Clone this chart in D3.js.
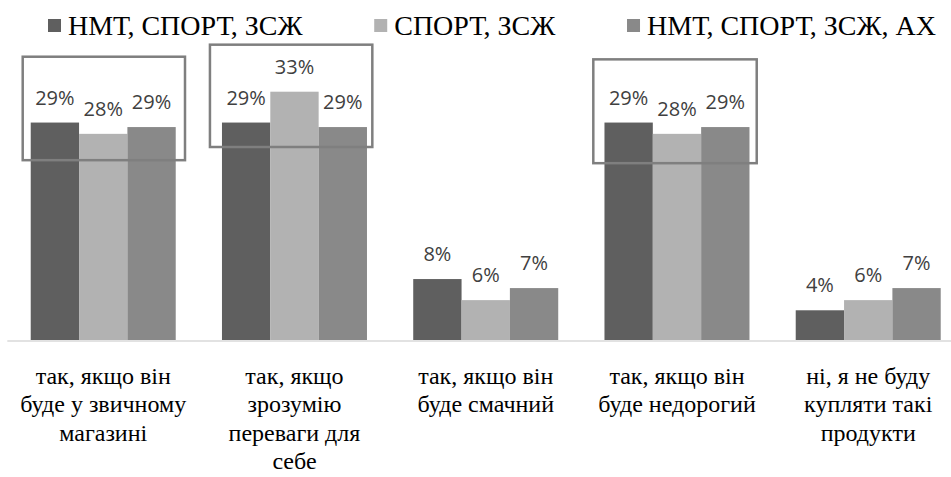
<!DOCTYPE html>
<html><head><meta charset="utf-8">
<script src="https://cdn.jsdelivr.net/npm/d3@7"></script>
<style>
  body { margin: 0; }
  #wrap { position: relative; width: 951px; height: 477px; overflow: hidden; }
  #chart { position: absolute; left: 0; top: 0; }
  .ser { position: absolute; font-family: "Liberation Serif", "Tinos", "Times New Roman", "DejaVu Serif", serif; color: #000; white-space: pre; }
</style></head>
<body>
<div id="wrap"><svg id="chart" width="951" height="477"></svg></div>
<script>
// ---- data ----
const categories = [
  "так, якщо він\nбуде у звичному\nмагазині",
  "так, якщо\nзрозумію\nпереваги для\nсебе",
  "так, якщо він\nбуде смачний",
  "так, якщо він\nбуде недорогий",
  "ні, я не буду\nкупляти такі\nпродукти"
];
const seriesNames = ["НМТ, СПОРТ, ЗСЖ", "СПОРТ, ЗСЖ", "НМТ, СПОРТ, ЗСЖ, АХ"];
const series1 = [28.9, 28.9, 8.1, 28.9, 3.95];
const series2 = [27.4, 33.0, 5.3, 27.4, 5.3];
const series3 = [28.3, 28.3, 6.9, 28.3, 6.9];
const labels1 = ["29%", "29%", "8%", "29%", "4%"];
const labels2 = ["28%", "33%", "6%", "28%", "6%"];
const labels3 = ["29%", "29%", "7%", "29%", "7%"];
// highlight frames: category index, top and bottom in value units
const frameCats = [0, 1, 3];
const frameTop = [37.65, 39.25, 37.3];
const frameBottom = [23.9, 25.65, 23.5];
const frameLeft = [0.079, 0.058, 0.0625];
const frameRight = [0.9276, 0.907, 0.917];

const colors = ["#5f5f5f", "#b2b2b2", "#898989"];
const allSeries = [series1, series2, series3];
const allLabels = [labels1, labels2, labels3];

const svg = d3.select("#chart");
const wrap = d3.select("#wrap");

const baseY = 340;
const pxPerUnit = 7.524;
const y = d3.scaleLinear().domain([0, 35]).range([baseY, baseY - 35 * pxPerUnit]);

const x0 = d3.scaleBand().domain(d3.range(categories.length))
  .range([7.6, 963.85]).paddingInner(0.2418).paddingOuter(0.1209);
const x1 = d3.scaleBand().domain(d3.range(seriesNames.length))
  .range([0, x0.bandwidth()]).padding(0);

const step = x0.step();
const bandStart = i => x0(i) - (step - x0.bandwidth()) / 2;

// bars
const groups = svg.append("g").selectAll("g")
  .data(categories.map((c, i) => i))
  .join("g")
  .attr("transform", i => `translate(${x0(i)},0)`);

groups.selectAll("rect")
  .data(i => allSeries.map((s, k) => ({ k, v: s[i] })))
  .join("rect")
  .attr("x", d => x1(d.k))
  .attr("y", d => y(d.v))
  .attr("width", x1.bandwidth())
  .attr("height", d => y(0) - y(d.v))
  .attr("fill", d => colors[d.k]);

// axis line
svg.append("line")
  .attr("x1", 7.3).attr("x2", 951)
  .attr("y1", baseY + 1).attr("y2", baseY + 1)
  .attr("stroke", "#d9d9d9").attr("stroke-width", 1.5);

// data labels
groups.selectAll("text")
  .data(i => allSeries.map((s, k) => ({ k, v: s[i], lab: allLabels[k][i] })))
  .join("text")
  .attr("x", d => x1(d.k) + x1.bandwidth() / 2)
  .attr("y", d => y(d.v) - 18)
  .attr("text-anchor", "middle")
  .attr("font-family", "Open Sans")
  .attr("font-size", 20)
  .attr("fill", "#404040")
  .text(d => d.lab);

// highlight frames
svg.append("g").selectAll("rect")
  .data(frameCats.map((c, j) => ({ c, j })))
  .join("rect")
  .attr("x", d => bandStart(d.c) + frameLeft[d.j] * step)
  .attr("width", d => (frameRight[d.j] - frameLeft[d.j]) * step)
  .attr("y", d => y(frameTop[d.j]))
  .attr("height", d => y(frameBottom[d.j]) - y(frameTop[d.j]))
  .attr("fill", "none")
  .attr("stroke", "#7f7f7f")
  .attr("stroke-width", 2.5);

// category labels (HTML, serif)
categories.forEach((c, i) => {
  wrap.append("div")
    .attr("class", "ser")
    .style("left", (x0(i) + x0.bandwidth() / 2 - step / 2) + "px")
    .style("width", step + "px")
    .style("top", "361.6px")
    .style("font-size", "24px")
    .style("line-height", "28.5px")
    .style("text-align", "center")
    .text(c);
});

// legend, spread between x=48 and x=936
const sq = 13, gapSq = 7;
const legTexts = seriesNames.map(name =>
  wrap.append("div")
    .attr("class", "ser")
    .style("top", "9.5px")
    .style("font-size", "28px")
    .style("line-height", "32px")
    .text(name));
const widths = legTexts.map(t => t.node().getBoundingClientRect().width);
const gapEntry = Math.max(8, (888 - d3.sum(widths) - 3 * (sq + gapSq)) / 2);
let cx = 48;
seriesNames.forEach((name, k) => {
  svg.append("rect").attr("x", cx).attr("y", 19).attr("width", sq).attr("height", sq)
    .attr("fill", colors[k]);
  legTexts[k].style("left", (cx + sq + gapSq) + "px");
  cx += sq + gapSq + widths[k] + gapEntry;
});
</script></body></html>
